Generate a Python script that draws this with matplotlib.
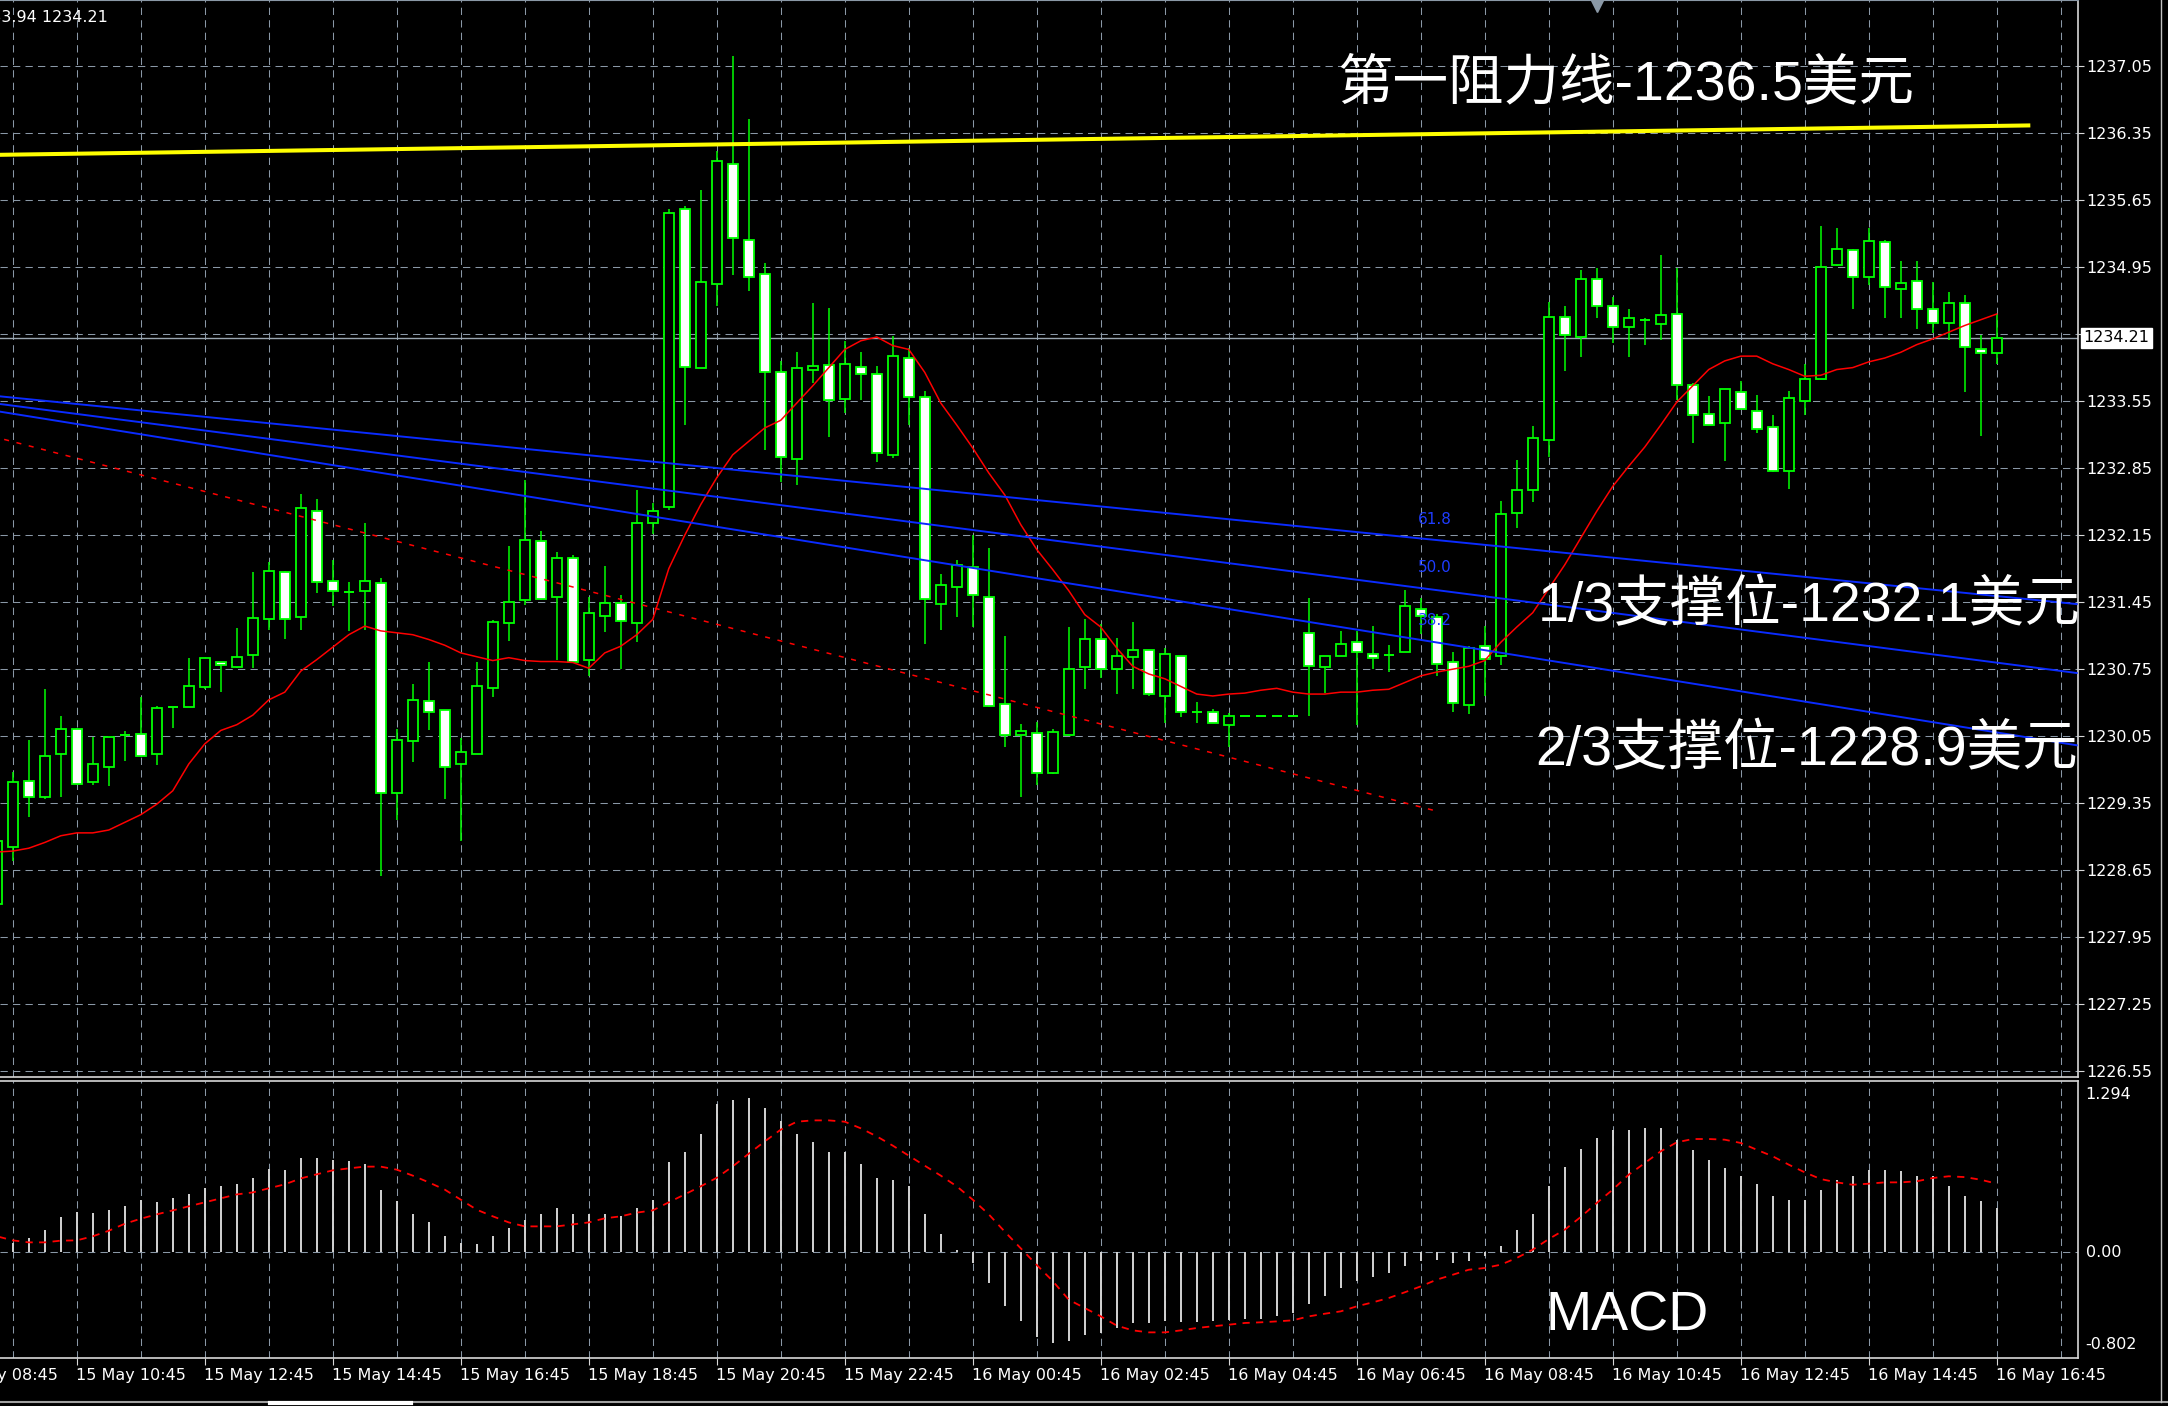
import numpy as np
import pandas as pd
import matplotlib
matplotlib.use('Agg')
import matplotlib.pyplot as plt
from matplotlib.patches import Rectangle
from matplotlib.transforms import blended_transform_factory

# 15 minute gold bars, 15 May 09:30 .. 16 May 16:45
bar_times = pd.date_range('2018-05-15 09:30', '2018-05-16 16:45', freq='15min')

opens = [1228.30, 1228.89, 1229.58, 1229.41, 1229.86, 1230.13, 1229.57, 1229.73, 1230.06, 1230.07,
         1229.86, 1230.35, 1230.36, 1230.56, 1230.83, 1230.77, 1230.90, 1231.27, 1231.76, 1231.30,
         1232.40, 1231.67, 1231.56, 1231.57, 1231.65, 1229.46, 1230.00, 1230.42, 1230.32, 1229.76,
         1229.86, 1230.55, 1231.23, 1231.47, 1232.09, 1231.50, 1231.91, 1230.85, 1231.31, 1231.44,
         1231.23, 1232.28, 1232.44, 1235.56, 1233.90, 1234.77, 1236.03, 1235.23, 1234.88, 1233.85,
         1232.95, 1233.88, 1233.93, 1233.57, 1233.91, 1233.83, 1232.99, 1234.00, 1233.59, 1231.43,
         1231.61, 1231.82, 1231.50, 1230.39, 1230.06, 1230.08, 1229.67, 1230.06, 1230.77, 1231.07,
         1230.75, 1230.88, 1230.95, 1230.47, 1230.89, 1230.30, 1230.30, 1230.17, 1230.26, 1230.26,
         1230.26, 1230.26, 1231.13, 1230.77, 1230.89, 1231.03, 1230.91, 1230.90, 1230.93, 1231.38,
         1231.30, 1230.82, 1230.38, 1230.99, 1230.89, 1232.38, 1232.62, 1233.14, 1234.43, 1234.22,
         1234.83, 1234.54, 1234.32, 1234.40, 1234.36, 1234.46, 1233.72, 1233.42, 1233.32, 1233.65,
         1233.45, 1233.28, 1232.82, 1233.55, 1233.78, 1234.97, 1235.13, 1234.85, 1235.21, 1234.72,
         1234.80, 1234.51, 1234.37, 1234.57, 1234.09, 1234.05]
highs = [1229.00, 1229.68, 1230.01, 1230.54, 1230.26, 1230.14, 1230.04, 1230.04, 1230.10, 1230.46,
         1230.37, 1230.36, 1230.87, 1230.87, 1230.83, 1231.18, 1231.76, 1231.87, 1231.78, 1232.58,
         1232.53, 1231.89, 1231.66, 1232.28, 1231.70, 1230.13, 1230.59, 1230.82, 1230.32, 1230.03,
         1230.82, 1231.26, 1232.04, 1232.73, 1232.19, 1231.97, 1231.94, 1231.50, 1231.83, 1231.53,
         1232.62, 1232.49, 1235.56, 1235.59, 1235.76, 1236.16, 1237.16, 1236.50, 1234.99, 1233.97,
         1234.06, 1234.57, 1234.52, 1234.18, 1234.06, 1233.92, 1234.23, 1234.10, 1233.66, 1231.74,
         1231.89, 1232.15, 1232.02, 1231.10, 1230.18, 1230.20, 1230.12, 1231.19, 1231.27, 1231.22,
         1231.08, 1231.24, 1230.95, 1230.97, 1230.89, 1230.41, 1230.33, 1230.29, 1230.26, 1230.26,
         1230.26, 1230.26, 1231.49, 1230.89, 1231.15, 1231.15, 1231.20, 1231.00, 1231.58, 1231.49,
         1231.33, 1230.93, 1230.99, 1231.20, 1232.51, 1232.93, 1233.29, 1234.59, 1234.54, 1234.92,
         1234.94, 1234.64, 1234.51, 1234.42, 1235.08, 1234.94, 1233.74, 1233.60, 1233.68, 1233.76,
         1233.61, 1233.41, 1233.66, 1233.94, 1235.38, 1235.36, 1235.14, 1235.36, 1235.23, 1235.01,
         1235.01, 1234.79, 1234.69, 1234.66, 1234.24, 1234.46]
lows = [1228.20, 1228.75, 1229.21, 1229.39, 1229.42, 1229.54, 1229.54, 1229.53, 1229.79, 1229.83,
        1229.75, 1230.14, 1230.36, 1230.54, 1230.51, 1230.76, 1230.76, 1231.16, 1231.06, 1231.16,
        1231.55, 1231.41, 1231.15, 1231.16, 1228.59, 1229.17, 1229.78, 1230.11, 1229.39, 1228.96,
        1229.86, 1230.46, 1231.04, 1231.42, 1231.47, 1230.85, 1230.83, 1230.68, 1231.14, 1230.75,
        1231.03, 1232.16, 1232.41, 1233.30, 1233.90, 1234.54, 1234.87, 1234.70, 1233.04, 1232.70,
        1232.67, 1233.74, 1233.18, 1233.43, 1233.56, 1232.91, 1232.96, 1233.30, 1231.01, 1231.16,
        1231.29, 1231.19, 1230.36, 1229.94, 1229.41, 1229.54, 1229.65, 1230.06, 1230.54, 1230.66,
        1230.49, 1230.54, 1230.47, 1230.19, 1230.25, 1230.19, 1230.19, 1229.94, 1230.26, 1230.26,
        1230.26, 1230.26, 1230.26, 1230.50, 1230.89, 1230.17, 1230.75, 1230.72, 1230.93, 1231.12,
        1230.68, 1230.30, 1230.28, 1230.47, 1230.79, 1232.22, 1232.50, 1232.97, 1233.86, 1234.01,
        1234.42, 1234.16, 1234.01, 1234.14, 1234.19, 1233.56, 1233.11, 1233.30, 1232.92, 1233.47,
        1233.22, 1232.81, 1232.63, 1233.40, 1233.78, 1234.96, 1234.51, 1234.76, 1234.42, 1234.42,
        1234.30, 1234.26, 1234.19, 1233.65, 1233.19, 1233.94]
closes = [1228.95, 1229.57, 1229.42, 1229.84, 1230.13, 1229.55, 1229.76, 1230.04, 1230.06, 1229.84,
          1230.34, 1230.35, 1230.57, 1230.87, 1230.79, 1230.88, 1231.28, 1231.78, 1231.27, 1232.43,
          1231.66, 1231.57, 1231.56, 1231.67, 1229.46, 1230.01, 1230.43, 1230.30, 1229.73, 1229.88,
          1230.57, 1231.24, 1231.45, 1232.10, 1231.48, 1231.91, 1230.83, 1231.34, 1231.44, 1231.25,
          1232.28, 1232.40, 1235.52, 1233.91, 1234.79, 1236.06, 1235.25, 1234.85, 1233.85, 1232.97,
          1233.90, 1233.92, 1233.56, 1233.94, 1233.83, 1233.01, 1234.02, 1233.59, 1231.48, 1231.63,
          1231.84, 1231.53, 1230.37, 1230.06, 1230.10, 1229.67, 1230.09, 1230.75, 1231.07, 1230.75,
          1230.89, 1230.95, 1230.49, 1230.91, 1230.30, 1230.30, 1230.19, 1230.26, 1230.26, 1230.26,
          1230.26, 1230.26, 1230.78, 1230.89, 1231.01, 1230.93, 1230.87, 1230.90, 1231.41, 1231.31,
          1230.80, 1230.40, 1230.97, 1230.86, 1232.37, 1232.62, 1233.16, 1234.43, 1234.24, 1234.83,
          1234.54, 1234.32, 1234.42, 1234.40, 1234.45, 1233.72, 1233.40, 1233.30, 1233.68, 1233.47,
          1233.26, 1232.82, 1233.58, 1233.78, 1234.95, 1235.14, 1234.85, 1235.22, 1234.74, 1234.78,
          1234.51, 1234.37, 1234.57, 1234.12, 1234.05, 1234.21]

# moving average (red solid)
ma_line = [1228.84, 1228.85, 1228.88, 1228.94, 1229.01, 1229.04, 1229.04, 1229.07, 1229.15, 1229.23,
           1229.34, 1229.48, 1229.76, 1229.97, 1230.11, 1230.17, 1230.27, 1230.43, 1230.51, 1230.73,
           1230.85, 1230.98, 1231.11, 1231.20, 1231.15, 1231.13, 1231.11, 1231.06, 1231.00, 1230.92,
           1230.88, 1230.84, 1230.87, 1230.84, 1230.83, 1230.83, 1230.82, 1230.76, 1230.92, 1230.99,
           1231.11, 1231.27, 1231.80, 1232.15, 1232.47, 1232.75, 1232.99, 1233.13, 1233.27, 1233.35,
           1233.53, 1233.71, 1233.90, 1234.09, 1234.18, 1234.22, 1234.13, 1234.09, 1233.85, 1233.53,
           1233.30, 1233.06, 1232.80, 1232.57, 1232.26, 1232.00, 1231.79, 1231.57, 1231.32, 1231.19,
           1230.97, 1230.78, 1230.70, 1230.65, 1230.57, 1230.49, 1230.47, 1230.49, 1230.50, 1230.53,
           1230.55, 1230.51, 1230.49, 1230.49, 1230.51, 1230.51, 1230.53, 1230.54, 1230.61, 1230.68,
           1230.72, 1230.75, 1230.78, 1230.84, 1231.03, 1231.19, 1231.34, 1231.59, 1231.84, 1232.12,
           1232.40, 1232.66, 1232.87, 1233.07, 1233.30, 1233.54, 1233.71, 1233.88, 1233.97, 1234.02,
           1234.02, 1233.94, 1233.88, 1233.81, 1233.82, 1233.88, 1233.90, 1233.96, 1234.00, 1234.06,
           1234.14, 1234.20, 1234.27, 1234.34, 1234.40, 1234.46]

macd_hist = [0.05, 0.07, 0.106, 0.169, 0.262, 0.300, 0.295, 0.320, 0.351, 0.396,
             0.381, 0.411, 0.441, 0.487, 0.502, 0.517, 0.562, 0.628, 0.623, 0.714,
             0.714, 0.699, 0.686, 0.668, 0.472, 0.383, 0.290, 0.230, 0.124, 0.07,
             0.063, 0.124, 0.184, 0.245, 0.290, 0.335, 0.290, 0.290, 0.290, 0.275,
             0.335, 0.396, 0.683, 0.759, 0.895, 1.122, 1.153, 1.165, 1.092, 0.989,
             0.895, 0.835, 0.759, 0.759, 0.668, 0.562, 0.547, 0.502, 0.290, 0.139,
             0.018, -0.08, -0.235, -0.406, -0.525, -0.643, -0.690, -0.676, -0.625, -0.613,
             -0.575, -0.537, -0.537, -0.525, -0.532, -0.532, -0.525, -0.512, -0.507, -0.507,
             -0.487, -0.46, -0.391, -0.335, -0.272, -0.22, -0.192, -0.159, -0.103, -0.07,
             -0.058, -0.083, -0.071, -0.03, 0.048, 0.169, 0.290, 0.502, 0.643, 0.779,
             0.863, 0.926, 0.926, 0.938, 0.938, 0.85, 0.774, 0.699, 0.636, 0.578,
             0.517, 0.426, 0.396, 0.396, 0.472, 0.542, 0.578, 0.623, 0.623, 0.610,
             0.578, 0.573, 0.502, 0.426, 0.383, 0.333]
macd_signal = [0.119, 0.088, 0.073, 0.073, 0.086, 0.088, 0.119, 0.161, 0.214, 0.252,
               0.285, 0.315, 0.346, 0.376, 0.406, 0.436, 0.451, 0.482, 0.512, 0.557,
               0.588, 0.618, 0.633, 0.646, 0.646, 0.623, 0.578, 0.527, 0.472, 0.396,
               0.320, 0.270, 0.224, 0.194, 0.194, 0.194, 0.209, 0.224, 0.255, 0.270,
               0.298, 0.315, 0.376, 0.436, 0.497, 0.562, 0.648, 0.744, 0.837, 0.926,
               0.986, 0.996, 0.996, 0.986, 0.936, 0.875, 0.805, 0.729, 0.653, 0.578,
               0.497, 0.396, 0.285, 0.154, 0.028, -0.098, -0.22, -0.361, -0.424, -0.487,
               -0.557, -0.593, -0.608, -0.608, -0.593, -0.575, -0.562, -0.550, -0.537, -0.532,
               -0.525, -0.517, -0.487, -0.467, -0.449, -0.411, -0.381, -0.348, -0.305, -0.260,
               -0.209, -0.172, -0.134, -0.121, -0.096, -0.045, 0.018, 0.098, 0.169, 0.265,
               0.371, 0.472, 0.585, 0.673, 0.762, 0.830, 0.855, 0.855, 0.850, 0.825,
               0.774, 0.724, 0.661, 0.603, 0.552, 0.527, 0.509, 0.517, 0.527, 0.527,
               0.535, 0.560, 0.573, 0.567, 0.547, 0.517]

price_ticks = [1237.05, 1236.35, 1235.65, 1234.95, 1234.25, 1233.55, 1232.85, 1232.15,
               1231.45, 1230.75, 1230.05, 1229.35, 1228.65, 1227.95, 1227.25, 1226.55]
last_price = 1234.21
macd_max, macd_min = 1.294, -0.802

# drawn objects, x in bar positions
resistance_x = [-1.0, 127.1]
resistance_y = [1236.12, 1236.43]
trend_x = [0.46, 89.93]
trend_y = [1233.15, 1229.27]
fan_x = [0.2, 130.0]
fan_levels = ['61.8', '50.0', '38.2']
fan_y = [[1233.60, 1231.43], [1233.52, 1230.71], [1233.44, 1229.955]]
fan_label_pos = [(88.8, 1232.31), (88.8, 1231.81), (88.8, 1231.26)]

label_times = pd.date_range('2018-05-15 08:45', '2018-05-16 16:45', freq='2h')
grid_times = pd.date_range('2018-05-15 09:45', '2018-05-16 17:45', freq='1h')

GREEN = '#00ff00'
GRID = '#8a98a6'
FRAME = '#d8d8d8'
TICKFONT = dict(family='DejaVu Sans', size=11.5, color='white')
BIGFONT = dict(family=['Liberation Sans', 'Noto Sans CJK SC', 'DejaVu Sans'], size=40, color='white')

def pos(t):
    return (t - bar_times[0]) / pd.Timedelta('15min')

x = np.arange(len(bar_times))
o = np.array(opens); h = np.array(highs); l = np.array(lows); c = np.array(closes)

fig = plt.figure(figsize=(21.68, 14.06), dpi=100, facecolor='black')
ax = fig.add_axes([0, 1 - 1077 / 1406, 2078 / 2168, 1077 / 1406], facecolor='black')
mx = fig.add_axes([0, 1 - 1358 / 1406, 2078 / 2168, 277 / 1406], facecolor='black')

xlim = (0.2, 130.08)
ax.set_xlim(*xlim)
ax.set_ylim(1226.49, 1237.74)
mx.set_xlim(*xlim)
mx.set_ylim(macd_min, macd_max)

# grid
gx = [pos(t) for t in grid_times]
for a in (ax, mx):
    a.vlines(gx, *a.get_ylim(), color=GRID, lw=0.75, ls=(0, (7, 5)), zorder=1)
ax.hlines(price_ticks, *xlim, color=GRID, lw=0.75, ls=(0, (7, 5)), zorder=1)
mx.hlines(0, *xlim, color=GRID, lw=0.75, ls=(0, (7, 5)), zorder=1)

# current price line
ax.axhline(last_price, color='#9aa6b1', lw=1.0, zorder=2)

# candles
ax.vlines(x, l, h, color=GREEN, lw=1.1, zorder=3)
for i in range(len(x)):
    if abs(c[i] - o[i]) < 0.015:
        ax.hlines(o[i], i - 0.3, i + 0.3, color=GREEN, lw=1.4, zorder=4)
    else:
        ax.add_patch(Rectangle((i - 0.3, min(o[i], c[i])), 0.6, abs(c[i] - o[i]),
                               facecolor='white' if c[i] < o[i] else 'black',
                               edgecolor=GREEN, lw=1.3, zorder=4))

# moving average
ax.plot(x, ma_line, color='#ff0000', lw=1.1, zorder=5)

# objects
ax.plot(resistance_x, resistance_y, color='#ffff00', lw=2.9, zorder=6, solid_capstyle='butt')
ax.plot(trend_x, trend_y, color='#ff0000', lw=1.1, ls=(0, (3.3, 5)), zorder=6)
for ys in fan_y:
    ax.plot(fan_x, ys, color='#0a2bff', lw=1.4, zorder=6)
for lv, (px, py) in zip(fan_levels, fan_label_pos):
    ax.text(px, py, lv, color='#1e3cff', fontsize=11, family='DejaVu Sans',
            ha='left', va='center', zorder=6)

# annotations
ax.text(83.8, 1236.85, '第一阻力线-1236.5美元', ha='left', va='center', zorder=10, **BIGFONT)
ax.text(96.3, 1231.40, '1/3支撑位-1232.1美元', ha='left', va='center', zorder=10,
        clip_on=True, **BIGFONT)
ax.text(96.16, 1229.90, '2/3支撑位-1228.9美元', ha='left', va='center', zorder=10,
        clip_on=True, **BIGFONT)
mx.text(96.8, -0.49, 'MACD', ha='left', va='center', zorder=10,
        family=['Liberation Sans', 'DejaVu Sans'], size=40, color='white')

# header and shift marker
fig.text(108 / 2168, 1 - 17 / 1406, '1233.94 1234.21', ha='right', va='center', **TICKFONT)
ax.plot([100.0], [1237.69], marker='v', color=GRID, markersize=10, clip_on=False, zorder=7)

# right price scale
ax.yaxis.tick_right()
ax.set_yticks(price_ticks)
ax.set_yticklabels(['' if abs(p - 1234.25) < 1e-6 else f'{p:.2f}' for p in price_ticks],
                   family='DejaVu Sans')
ax.tick_params(axis='y', length=4, pad=2, labelsize=11.5, labelcolor='white', color=FRAME)
ax.set_xticks([])
ax.annotate(f'{last_price:.2f}', xy=(1, last_price), xycoords=('axes fraction', 'data'),
            xytext=(4, 0), textcoords='offset points', ha='left', va='center',
            family='DejaVu Sans', fontsize=11.5, color='black', annotation_clip=False,
            bbox=dict(boxstyle='square,pad=0.15', fc='white', ec='white'))

# MACD panel
mx.vlines(x, 0, macd_hist, color='#d4d4d4', lw=1.4, zorder=3)
mx.plot(x, macd_signal, color='#ff0000', lw=1.3, ls=(0, (4, 3.5)), zorder=4)
mx.set_yticks([])
for val, dy in [(macd_max, -10), (0, 0), (macd_min, 10)]:
    mx.annotate(f'{val:.3f}' if val != 0 else '0.00', xy=(1, val),
                xycoords=('axes fraction', 'data'), xytext=(5.5, dy),
                textcoords='offset points', ha='left', va='center',
                annotation_clip=False, **TICKFONT)

# time axis
lx = [pos(t) for t in label_times]
mx.set_xticks([p for p in lx if xlim[0] <= p <= xlim[1]])
mx.set_xticklabels([])
mx.tick_params(axis='x', length=5, color=FRAME, direction='out')
trans = blended_transform_factory(mx.transData, mx.transAxes)
for p, t in zip(lx, label_times):
    mx.annotate(t.strftime('%d %b %H:%M'), xy=(p, 0), xycoords=trans, xytext=(-0.5, -7.5),
                textcoords='offset points', ha='left', va='top', annotation_clip=False,
                **TICKFONT)

# frame
for a in (ax, mx):
    a.spines['left'].set_visible(False)
    for s in ('right', 'bottom', 'top'):
        a.spines[s].set_color(FRAME)
        a.spines[s].set_linewidth(1.2)
ax.spines['top'].set_color(GRID)
ax.spines['top'].set_linewidth(0.8)

# window border
fig.add_artist(plt.Line2D([0, 1], [1 - 1402 / 1406] * 2, color='#a0a0a0', lw=1.5))
fig.add_artist(plt.Line2D([270 / 2168, 411 / 2168], [1 - 1403 / 1406] * 2, color='white', lw=3))
fig.add_artist(plt.Line2D([2161 / 2168] * 2, [1 - 1402 / 1406, 1], color='#c0c0c0', lw=1.0))

fig.savefig('out.png', dpi=100, facecolor='black')
